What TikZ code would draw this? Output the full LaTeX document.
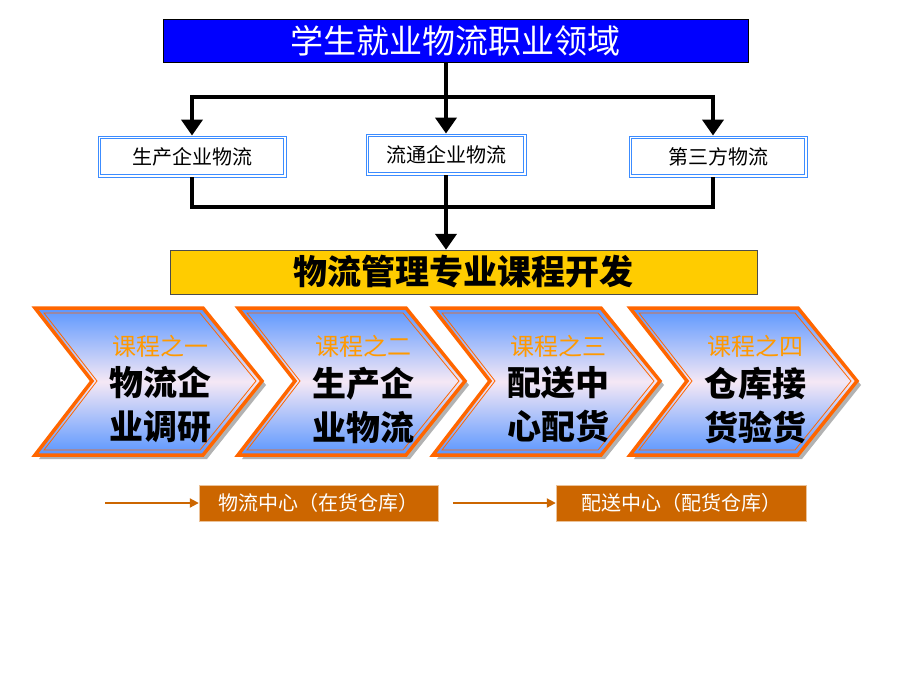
\documentclass[tikz,border=0pt]{standalone}
\usepackage{fontspec}
\setmainfont{Noto Sans CJK SC}
\usetikzlibrary{arrows.meta}
\definecolor{pblue}{RGB}{0,0,255}
\definecolor{pyel}{RGB}{255,204,0}
\definecolor{porange}{RGB}{255,102,0}
\definecolor{plab}{RGB}{255,153,0}
\definecolor{pbrown}{RGB}{204,102,0}
\definecolor{cblue}{RGB}{90,150,255}
\definecolor{cpink}{RGB}{245,232,245}
\definecolor{bblue}{RGB}{60,140,255}
\begin{document}
\begin{tikzpicture}[x=1pt,y=-1pt,
 conn/.style={line width=4.5pt},
 arr/.style={line width=4.5pt,-{Triangle[length=16pt,width=21pt]}},
 sub/.style={draw=bblue,line width=0.9pt,fill=white,font=\fontsize{20}{20}\selectfont,inner sep=0pt,
   postaction={draw=bblue,line width=0.9pt,shorten >=0pt,
   path picture={\draw[bblue,line width=1.2pt] ([shift={(2.5pt,-2.5pt)}]path picture bounding box.north west) rectangle ([shift={(-2.5pt,2.5pt)}]path picture bounding box.south east);}}},
 lab/.style={text=plab,font=\fontsize{24}{24}\selectfont},
 big/.style={font=\fontsize{34}{44}\selectfont\bfseries,align=center},
 bot/.style={fill=pbrown,draw=pbrown!40,text=white,font=\fontsize{20}{20}\selectfont,inner sep=0pt},
 barr/.style={draw=pbrown,line width=2pt,-{Triangle[length=9pt,width=9pt]}}]
\useasboundingbox (0,0) rectangle (920,690);
\fill[white] (0,0) rectangle (920,690);
\node[fill=pblue,draw=black,text=white,minimum width=585pt,minimum height=43pt,inner sep=0pt,font=\fontsize{33}{33}\selectfont] (t) at (455.5,40.5) {学生就业物流职业领域};
\node[sub,minimum width=188pt,minimum height=41pt] (a) at (192,156.5) {生产企业物流};
\node[sub,minimum width=160pt,minimum height=41pt] (b) at (446,154.5) {流通企业物流};
\node[sub,minimum width=178pt,minimum height=41pt] (c) at (718,156.5) {第三方物流};
\node[fill=pyel,draw=black!70,minimum width=587pt,minimum height=44pt,inner sep=0pt,font=\fontsize{34}{34}\selectfont\bfseries] (y) at (463.5,272) {物流管理专业课程开发};
\coordinate (j1) at (446,97);
\coordinate (j2) at (446,207);
\coordinate (cx) at (713,0);
\draw[conn] (t.south -| j1) -- (j1);
\draw[conn] (192,97) -- (713,97);
\draw[arr] (192,95) -- (a.north);
\draw[arr] (j1) -- (b.north);
\draw[arr] (713,95) -- (c.north -| cx);
\draw[conn] (a.south) -- (192,207) -- (713,207) -- (c.south -| cx);
\draw[conn] (b.south) -- (j2);
\draw[arr] (j2) -- (y.north -| j2);
\foreach \x/\l/\p/\q [count=\i] in {35/课程之一/物流企/业调研,238/课程之二/生产企/业物流,433/课程之三/配送中/心配货,630/课程之四/仓库接/货验货}{
 \fill[black!30] (\x+4,312) -- (\x+172,312) -- (\x+231,385) -- (\x+172,459) -- (\x+4,459) -- (\x+61,385) -- cycle;
 \shade[top color=cblue,bottom color=cblue,middle color=cpink] (\x,308) -- (\x+168,308) -- (\x+227,381) -- (\x+168,455) -- (\x,455) -- (\x+57,381) -- cycle;
 \draw[porange,line width=3.5pt,line join=miter] (\x,308) -- (\x+168,308) -- (\x+227,381) -- (\x+168,455) -- (\x,455) -- (\x+57,381) -- cycle;
 \draw[porange,line width=0.8pt] (\x+9,313) -- (\x+165,313) -- (\x+221,381) -- (\x+165,450) -- (\x+9,450) -- (\x+62,381) -- cycle;
 \node[lab] (l\i) at (\x+125,346) {\l};
 \node[big] (m\i) at (\x+125,405) {\p\\\q};
}
\node[bot,minimum width=239pt,minimum height=36pt] (w1) at (318.5,503) {物流中心（在货仓库）};
\node[bot,minimum width=250pt,minimum height=36pt] (w2) at (681,503) {配送中心（配货仓库）};
\coordinate (s1) at (105,503);
\coordinate (s2) at (453,503);
\draw[barr] (s1) -- (w1.west);
\draw[barr] (s2) -- (w2.west);
\end{tikzpicture}
\end{document}
